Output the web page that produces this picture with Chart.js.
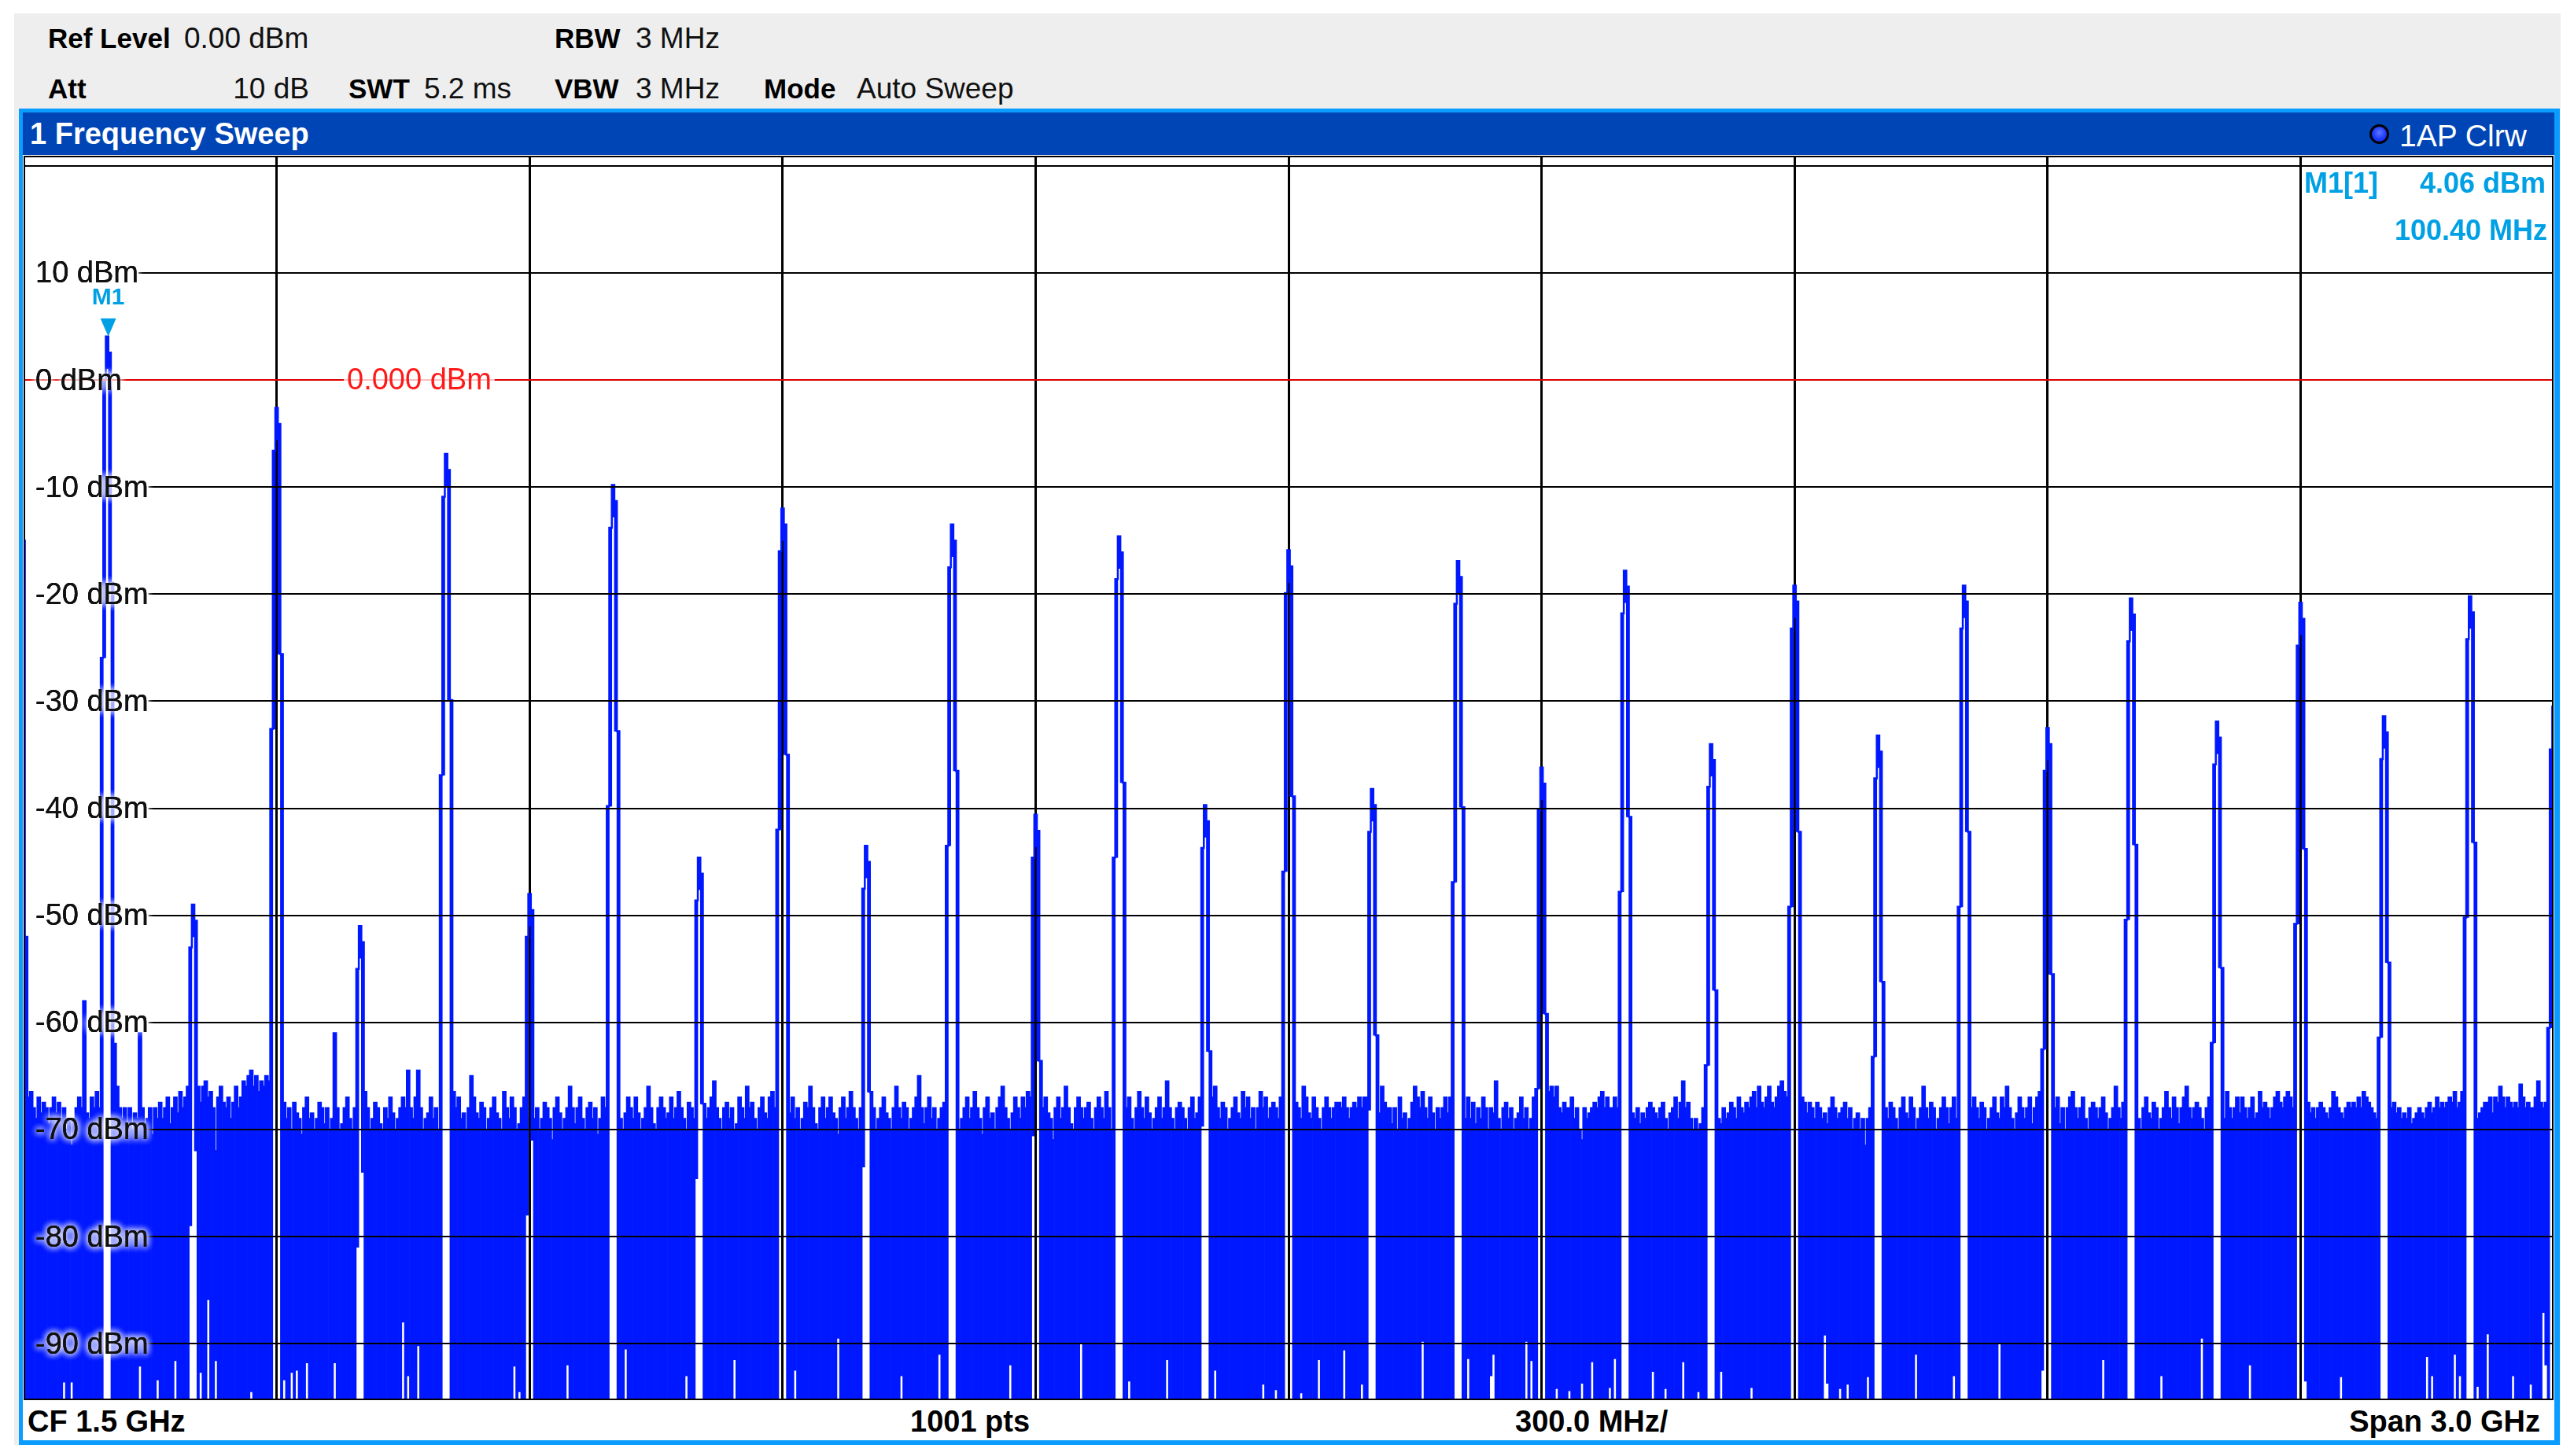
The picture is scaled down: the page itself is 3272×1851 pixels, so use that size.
<!DOCTYPE html>
<html>
<head>
<meta charset="utf-8">
<script src="https://cdn.jsdelivr.net/npm/chart.js@4.4.1/dist/chart.umd.min.js"></script>
<style>
  html, body { margin: 0; padding: 0; background: #fff; }
  body { width: 3272px; height: 1851px; position: relative; overflow: hidden; font-family: "Liberation Sans", Arial, sans-serif; }
  .abs { position: absolute; white-space: nowrap; line-height: 1; }
  #panel { left: 18px; top: 17px; width: 3237px; height: 1820px; background: #eeeeee; }
  #frame { left: 24px; top: 138px; width: 3230px; height: 1699px; background: #0a9cff; }
  #inner { left: 29px; top: 143px; width: 3218px; height: 1688px; background: #fff; }
  #titlebar { left: 29px; top: 143px; width: 3218px; height: 54px; background: #0045b5; }
  .hk { font-weight: bold; font-size: 35px; color: #000; }
  .hv { font-size: 37px; color: #111; }
  .tt { color: #fff; }
  .mk { font-weight: bold; font-size: 36px; color: #00a0e4; z-index: 5; }
  .ft { font-weight: bold; font-size: 38px; color: #000; }
  #dot { left: 3012px; top: 158px; width: 19px; height: 19px; border-radius: 50%; background: radial-gradient(circle at 50% 40%, #5a78ff 0, #1a34ff 60%); border: 3px solid #000; }
  #plot { left: 30px; top: 198px; width: 3216px; height: 1582px; }
</style>
</head>
<body>
<div id="panel" class="abs"></div>
<span class="abs hk" style="left:61px;top:31.4px">Ref Level</span>
<span class="abs hv" style="left:234px;top:29.7px">0.00 dBm</span>
<span class="abs hk" style="left:705px;top:31.4px">RBW</span>
<span class="abs hv" style="left:808px;top:29.7px">3 MHz</span>
<span class="abs hk" style="left:61px;top:95.4px">Att</span>
<span class="abs hv" style="right:2879px;top:93.7px">10 dB</span>
<span class="abs hk" style="left:443px;top:95.4px">SWT</span>
<span class="abs hv" style="left:539px;top:93.7px">5.2 ms</span>
<span class="abs hk" style="left:705px;top:95.4px">VBW</span>
<span class="abs hv" style="left:808px;top:93.7px">3 MHz</span>
<span class="abs hk" style="left:971px;top:95.4px">Mode</span>
<span class="abs hv" style="left:1089px;top:93.7px">Auto Sweep</span>

<div id="frame" class="abs"></div>
<div id="inner" class="abs"></div>
<div id="titlebar" class="abs"></div>
<span class="abs tt" style="left:38px;top:150.8px;font-size:38px;font-weight:bold">1 Frequency Sweep</span>
<div id="dot" class="abs"></div>
<span class="abs tt" style="left:3050px;top:153px;font-size:39px">1AP Clrw</span>

<div id="plot" class="abs"><canvas id="chart"></canvas></div>

<span class="abs mk" style="left:2929px;top:214.5px">M1[1]</span>
<span class="abs mk" style="right:36px;top:214.5px">4.06 dBm</span>
<span class="abs mk" style="right:34px;top:274.5px">100.40 MHz</span>

<span class="abs ft" style="left:35px;top:1787.8px">CF 1.5 GHz</span>
<span class="abs ft" style="left:1157px;top:1787.8px">1001 pts</span>
<span class="abs ft" style="left:1926px;top:1787.8px">300.0 MHz/</span>
<span class="abs ft" style="right:43px;top:1787.8px">Span 3.0 GHz</span>

<script>
// sweep: 1001 points over 0 .. 3000 MHz (CF 1.5 GHz, span 3 GHz)
const SPAN_MHZ = 3000;
const SAMPLE_COUNT = 1001;
const Y_MAX = 20.94;
const Y_MIN = -95.27;
const FLOOR_DBM = -100;

// comb lines of the 100 MHz square wave, levels
const harmonicMHz = [100, 200, 300, 400, 500, 600, 700, 800, 900, 1000,
  1100, 1200, 1300, 1400, 1500, 1600, 1700, 1800, 1900, 2000,
  2100, 2200, 2300, 2400, 2500, 2600, 2700, 2800, 2900, 3000];
const harmonicDbm = [4.06, -49, -2.6, -51, -6.9, -48, -9.8, -44.6, -12, -43.5,
  -13.5, -40.6, -14.6, -39.7, -15.9, -38.2, -16.9, -36.2, -17.8, -34,
  -19.2, -33.2, -19.2, -32.5, -20.4, -31.9, -20.8, -31.4, -20.2, -30.5];

// shape of one line over 5 sweep points (dB below the line level)
const peakTopOffsets = [-30, -4, 0, -1.5, -23];
const peakBottomOffsets = [null, -30, -3, -23, null];

// auto-peak maximum of every sweep point away from the comb lines
const sweepMax = [
  // 0-99
  -15, -52, -67, -66.5, -68, -69, -67, -68.5, -67.5, -68, -69.5, -68, -67, -68.5, -67.5, -69, -68, -70, -69, -71.5,
  -69, -68, -67, -68, -58, -68.5, -69, -67, -68, -66.5, -68, -66, -67, -60, -62, -64, -62, -66, -68, -69,
  -68, -69.5, -68, -70, -68.5, -69, -61, -68, -70, -69, -68, -70.5, -68, -69, -67.5, -69, -68, -67, -69.5, -68,
  -67, -68.5, -66.5, -68, -67, -66, -67, -66, -65.5, -66, -67.5, -66, -65.5, -67, -66.5, -68, -72, -67, -66, -67.5,
  -68, -67, -69, -67.5, -66, -68, -67, -65.5, -66, -65, -64.5, -66, -65, -66.5, -65.5, -66, -65, -65.5, -67, -66,
  // 100-199
  -66, -67, -68, -67.5, -69, -68, -70, -67.5, -68.5, -69, -70.5, -68, -67, -69, -68.5, -70, -69, -67.5, -68, -69.5,
  -68, -70, -69, -61, -68, -70, -69.5, -68, -67, -69, -70, -68, -67, -68, -69, -66.5, -68, -70, -69, -67.5,
  -68, -69.5, -70, -68, -69, -67, -68.5, -70, -69, -68, -67, -68, -64.5, -68, -69, -67, -64.5, -68, -70, -69,
  -68.5, -67, -69, -68, -70, -69, -68, -67, -68, -69, -66.5, -68, -67, -69, -68.5, -70, -68, -65, -67, -68.5,
  -69, -67.5, -68, -70, -69, -68, -67, -68.5, -69, -70, -66.5, -68, -69, -67, -68, -70, -69.5, -68, -67, -68,
  // 200-299
  -67, -68, -69, -68, -70, -69, -67.5, -68, -69, -71, -68, -67, -68.5, -70, -69, -68, -66, -68, -69.5, -68,
  -67, -69, -70, -68, -67.5, -69, -68, -70.5, -69, -67, -68, -69, -67, -68, -66.5, -68, -69, -70, -68.5, -67,
  -68, -69, -67, -68.5, -70, -69, -68, -66, -68, -69.5, -70, -68, -67, -68, -69, -68.5, -67, -69, -68, -66.5,
  -68, -69, -70, -67.5, -68, -69, -68, -67, -68, -70, -69, -68, -67, -65.5, -68, -69, -70, -68, -67.5, -69,
  -68, -70, -69.5, -67, -68, -69, -66, -68, -67.5, -69, -70, -68, -67, -68.5, -69, -67, -66.5, -68, -67, -67.5,
  // 300-399
  -68, -69, -70, -68.5, -67, -69, -68, -70, -69, -67.5, -68, -66, -68, -69.5, -70, -68, -67, -69, -68, -67,
  -68.5, -69, -70.5, -68, -67, -69, -68, -66.5, -68, -69, -70, -68, -67, -68, -69, -67.5, -68, -70, -69, -68,
  -67, -68.5, -69, -70, -68, -66, -68, -69, -67.5, -68, -70, -69, -68, -67, -65, -68, -69.5, -68, -67, -69,
  -68, -70, -69, -68, -67.5, -68, -69, -68, -67, -68.5, -70, -69, -68, -67, -69, -68, -66.5, -68, -69, -70.5,
  -68, -67, -69, -68.5, -70, -68, -67, -66, -68, -69, -70, -68.5, -67, -68, -69, -67, -68, -66.5, -67, -68,
  // 400-499
  -68, -69, -70, -68, -67, -68.5, -69, -71, -68, -67, -69, -68, -66, -68, -69.5, -70, -68, -67, -68, -69,
  -68, -67.5, -69, -70, -68, -67, -68, -69, -66.5, -68, -70, -69, -68, -67, -68, -69.5, -68, -67, -69, -70,
  -68, -66.5, -68, -69, -67, -68.5, -70, -69, -68, -67, -69, -68, -65.5, -68, -69, -70, -68, -67.5, -68, -69,
  -70, -68, -67, -69, -68.5, -67, -68, -69, -70, -68, -67, -66, -68, -69, -67.5, -68, -70, -69, -68, -67,
  -68.5, -69, -66.5, -68, -67, -69, -68, -70, -68, -66.5, -68, -67, -69, -68, -67.5, -68, -69, -67, -66.5, -67,
  // 500-599
  -68, -67, -68, -67.5, -68, -69, -66, -67, -68.5, -69, -67, -68, -69, -70, -68, -67, -68, -69, -68, -67.5,
  -67.5, -68, -67, -68, -69, -68, -67.5, -68, -67, -68, -67, -67, -68, -68, -67, -66, -68.5, -66, -67.5, -68,
  -68, -69.5, -68, -70, -67, -69, -68.5, -70, -69, -67.5, -66, -67, -68, -66.5, -68, -69, -67, -68.5, -70, -68,
  -69, -68, -67, -68.5, -67, -68, -67.5, -68, -69, -68.5, -69, -67, -69, -67.5, -69.5, -68, -69, -67, -68, -70,
  -68, -68.5, -65.5, -69, -70, -68, -67.5, -69, -68, -70, -69, -68.5, -67, -69, -68, -70, -69, -67, -67, -67.5,
  // 600-699
  -67, -67.5, -67, -66.5, -66, -67, -66, -68, -68.5, -67.5, -68, -68, -67, -69, -68, -70, -71, -68, -69, -68.5,
  -68, -67.5, -68, -67, -66.5, -68, -67, -68, -68, -67, -68, -66.5, -67, -67, -66, -67, -68.5, -69, -68, -69.5,
  -68.5, -69, -68, -67.5, -68, -68.5, -69, -68, -67.5, -69, -70, -68.5, -68, -67, -69, -67.5, -65.5, -68, -67.5, -69,
  -70, -69, -70, -69.5, -68, -67, -68, -66, -69, -70.5, -69, -69.5, -68, -69, -68.5, -67.5, -68, -69, -67, -68,
  -68.5, -67.5, -68, -67, -66.5, -68, -66, -67.5, -68, -67, -66, -67.5, -68, -67, -66, -65.5, -66.5, -67, -67, -67,
  // 700-799
  -67, -67, -68, -67, -67.5, -68.5, -67.5, -68, -69, -67.5, -68, -69, -68.5, -69.5, -68, -67, -68, -69, -68.5, -68,
  -67.5, -69, -68, -70, -69, -68.5, -70, -69, -71.5, -69, -68, -67, -68, -67, -68, -66.5, -68, -69, -67.5, -68,
  -69, -70, -68, -67, -68.5, -69, -67, -68, -70, -69, -68, -66, -68, -69, -67.5, -68, -70, -69, -68, -67,
  -68, -69.5, -68, -67, -69, -68, -66.5, -68, -69, -70, -68, -67, -68, -69, -67.5, -68, -70, -69, -68, -67,
  -68.5, -69, -67, -68, -66, -68, -69, -70, -68.5, -67, -68, -69, -68, -67, -69.5, -68, -67, -66.5, -67, -67.5,
  // 800-899
  -67, -68, -69, -68, -67, -69.5, -68, -70, -68, -67, -66.5, -68, -69, -68, -67, -69, -70, -68, -67.5, -68,
  -69, -68, -67, -68.5, -70, -69, -68, -66, -68, -69, -67.5, -68, -69, -68, -67, -68, -69, -70, -68, -67,
  -68.5, -69, -67.5, -68, -70, -69, -68, -66.5, -68, -69, -67, -68, -69.5, -68, -67, -66, -68, -69, -68, -67.5,
  -68, -69, -70, -68, -67, -68.5, -69, -68, -67, -68, -69, -66.5, -68, -69, -68, -67, -68.5, -67, -68, -69,
  -68, -67, -69, -68.5, -66.5, -68, -67.5, -68, -69, -68, -67, -66.5, -67.5, -68, -67, -66.5, -67, -68, -67.5, -67,
  // 900-1000
  -67, -67, -68, -67.5, -68.5, -68, -69, -68, -67.5, -68, -68.5, -69, -68, -66.5, -67, -68, -68.5, -69, -68, -67.5,
  -68, -67.5, -68, -67, -68, -66.5, -67, -67.5, -68, -68.5, -69, -68, -67.5, -68, -68, -67.5, -68, -67.5, -68.5, -68,
  -69, -68.5, -69, -68, -69.5, -69, -68.5, -68, -68.5, -69, -68, -67.5, -68.5, -68, -67, -68, -67.5, -68, -67.5, -67,
  -67.5, -66.5, -68, -67.5, -66.5, -67, -66.5, -67, -68, -67, -69, -68.5, -68, -67.5, -67.5, -67, -68.5, -67, -67.5, -66,
  -67, -68, -67, -67.5, -68, -67.5, -68, -65.8, -67, -68, -67.5, -68, -68, -67, -65.5, -67.5, -68, -67.5, -67, -66,
  -66
];

// sweep points whose auto-peak minimum stays above the bottom of the screen: [point, dBm]
const raisedMinima = [
  [16, -93.6], [19, -93.6], [46, -92.1], [53, -93.4], [60, -91.6], [70, -92.7], [73, -85.9], [76, -91.6],
  [90, -94.5], [103, -93.4], [106, -92.7], [108, -92.5], [112, -91.8], [123, -91.8], [150, -88], [152, -93],
  [156, -90.2], [194, -92.1], [196, -94.5], [215, -92], [238, -90.5], [262, -93], [281, -91.5], [305, -92.5],
  [322, -89.5], [347, -93], [362, -91], [390, -92], [418, -90], [437, -93.5], [452, -91.5], [471, -92.5],
  [490, -93.8], [495, -94.3], [505, -94.6], [512, -91.5], [522, -90.6], [529, -93.8], [553, -89.8], [571, -91.4],
  [580, -93], [581, -91], [594, -89.8], [596, -91.6], [606, -94.2], [611, -94.4], [616, -93.7], [620, -91.7],
  [627, -94.1], [629, -91.4], [644, -92.6], [649, -94.2], [656, -91.7], [662, -94.5], [671, -92.6], [683, -94.1],
  [712, -89.2], [713, -93.7], [718, -94.2], [721, -93.8], [729, -93.1], [748, -91], [763, -93], [781, -90],
  [798, -92.5], [822, -91.5], [845, -93], [861, -89.5], [880, -92], [902, -93.5], [916, -93.1], [950, -91.2],
  [952, -93], [961, -91], [963, -93], [970, -94], [974, -89.1], [984, -93], [991, -93.8], [996, -87.1], [997, -92]
];

const yTickValues = [20, 10, 0, -10, -20, -30, -40, -50, -60, -70, -80, -90];
const displayLineDbm = 0;
const markerMHz = 100.4;
const markerDbm = 4.06;

const TRACE = '#0018ff';
const MARKER_BLUE = '#00a0e4';
const stepMHz = SPAN_MHZ / (SAMPLE_COUNT - 1);
const freqLabels = Array.from({ length: SAMPLE_COUNT }, (_, i) => (i * stepMHz).toFixed(0));

// min/max pair of every sweep point
const highs = sweepMax.slice();
const lows = sweepMax.map(() => FLOOR_DBM);
raisedMinima.forEach(([i, v]) => { lows[i] = v; });
harmonicMHz.forEach((f, n) => {
  const centre = Math.round(f / stepMHz);
  peakTopOffsets.forEach((off, j) => {
    const i = centre + j - 2;
    if (i < 0 || i >= SAMPLE_COUNT) return;
    highs[i] = Math.max(highs[i], harmonicDbm[n] + off);
    if (peakBottomOffsets[j] !== null) lows[i] = harmonicDbm[n] + peakBottomOffsets[j];
  });
});
const traceBars = highs.map((hi, i) => [lows[i], hi]);

const overlay = {
  id: 'overlay',
  afterDraw(chart) {
    const { ctx, chartArea: a, scales: { x, y } } = chart;
    ctx.save();
    ctx.font = '38px "Liberation Sans", Arial, sans-serif';
    ctx.textBaseline = 'middle';
    const labelX = a.left + 15;

    // horizontal graticule, broken where the level labels sit
    ctx.strokeStyle = '#000';
    ctx.lineWidth = 2;
    yTickValues.forEach((v) => {
      if (v === displayLineDbm) return;
      const py = Math.round(y.getPixelForValue(v));
      const start = v < 20 ? labelX + ctx.measureText(`${v} dBm`).width : a.left;
      ctx.beginPath();
      ctx.moveTo(start, py);
      ctx.lineTo(a.right, py);
      ctx.stroke();
    });

    // display line
    const dl = Math.round(y.getPixelForValue(displayLineDbm));
    ctx.strokeStyle = '#dd0000';
    ctx.beginPath();
    ctx.moveTo(a.left, dl);
    ctx.lineTo(a.right, dl);
    ctx.stroke();

    // level labels with a white halo
    ctx.textAlign = 'left';
    yTickValues.filter((v) => v < 20).forEach((v) => {
      const py = y.getPixelForValue(v);
      const text = `${v} dBm`;
      ctx.fillStyle = '#111';
      ctx.shadowColor = 'rgba(255,255,255,0.95)';
      ctx.shadowBlur = 9;
      for (let k = 0; k < 3; k += 1) ctx.fillText(text, labelX, py + 2);
      ctx.shadowBlur = 0;
      ctx.fillText(text, labelX, py + 2);
    });

    // display line label
    const dlText = displayLineDbm.toFixed(3) + ' dBm';
    const dlX = a.left + 411;
    const w = ctx.measureText(dlText).width;
    ctx.fillStyle = 'rgba(255,255,255,0.75)';
    ctx.fillRect(dlX - 4, dl - 18, w + 8, 36);
    ctx.fillStyle = '#ff1a1a';
    ctx.fillText(dlText, dlX, dl + 2);

    // marker M1
    const mx = x.getPixelForValue(markerMHz / stepMHz);
    const my = y.getPixelForValue(markerDbm);
    ctx.fillStyle = MARKER_BLUE;
    ctx.beginPath();
    ctx.moveTo(mx - 10, my - 23);
    ctx.lineTo(mx + 10, my - 23);
    ctx.lineTo(mx, my);
    ctx.closePath();
    ctx.fill();
    ctx.font = 'bold 30px "Liberation Sans", Arial, sans-serif';
    ctx.textAlign = 'center';
    ctx.textBaseline = 'alphabetic';
    ctx.fillText('M1', mx, my - 41);

    // diagram frame
    ctx.strokeStyle = '#000';
    ctx.lineWidth = 2;
    ctx.strokeRect(a.left + 1, a.top + 1, a.right - a.left - 2, a.bottom - a.top - 2);
    ctx.restore();
  },
};

new Chart(document.getElementById('chart'), {
  type: 'bar',
  data: {
    labels: freqLabels,
    datasets: [{
      type: 'line',
      label: 'trace outline',
      data: highs,
      borderColor: TRACE,
      borderWidth: 2.5,
      stepped: 'middle',
      pointRadius: 0,
      fill: false,
    }, {
      label: '1AP Clrw',
      data: traceBars,
      backgroundColor: TRACE,
      borderWidth: 0,
      barPercentage: 1,
      categoryPercentage: 1,
    }],
  },
  options: {
    responsive: true,
    maintainAspectRatio: false,
    animation: false,
    events: [],
    layout: { padding: 0 },
    plugins: { legend: { display: false }, tooltip: { enabled: false } },
    scales: {
      x: {
        offset: false,
        z: 1,
        ticks: { display: false, autoSkip: false },
        grid: {
          offset: false,
          drawTicks: false,
          lineWidth: 3,
          color: (c) => (c.index % 100 === 0 ? '#000' : 'rgba(0,0,0,0)'),
        },
        border: { display: false },
      },
      y: { display: false, min: Y_MIN, max: Y_MAX },
    },
  },
  plugins: [overlay],
});
</script>
</body>
</html>
